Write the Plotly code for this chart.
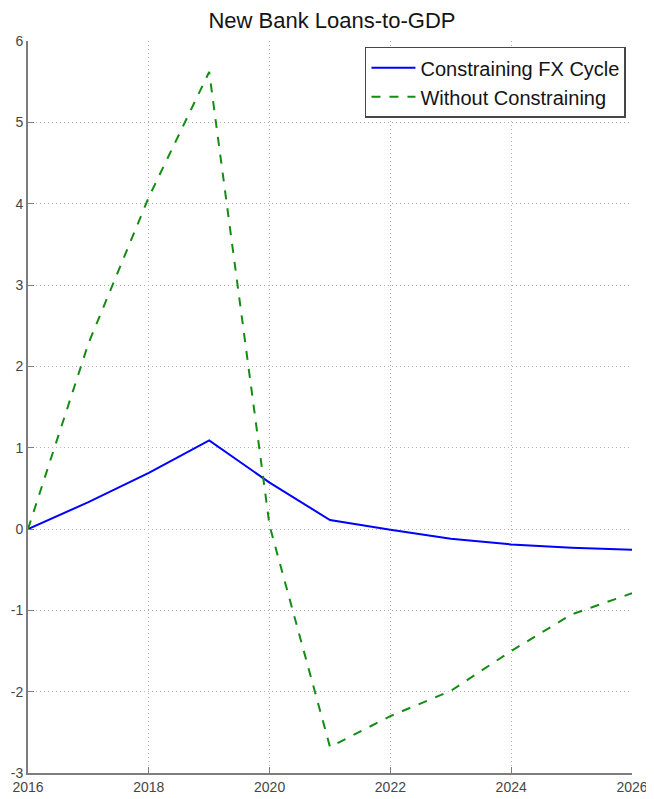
import plotly.graph_objects as go

years = [2016, 2017, 2018, 2019, 2020, 2021, 2022, 2023, 2024, 2025, 2026]
constraining = [0.0, 0.33, 0.69, 1.09, 0.57, 0.11, -0.01, -0.12, -0.19, -0.23, -0.255]
without = [0.0, 2.28, 4.08, 5.62, 0.04, -2.68, -2.30, -1.99, -1.50, -1.05, -0.79]
x_ticks = [2016, 2018, 2020, 2022, 2024, 2026]
y_ticks = [-3, -2, -1, 0, 1, 2, 3, 4, 5, 6]

fig = go.Figure()
fig.add_trace(go.Scatter(x=years, y=constraining, mode="lines", name="Constraining FX Cycle",
                         line=dict(color="rgb(0,0,255)", width=2)))
fig.add_trace(go.Scatter(x=years, y=without, mode="lines", name="Without Constraining",
                         line=dict(color="rgb(20,140,20)", width=2, dash="dash")))

axis_common = dict(
    showgrid=True, gridcolor="rgb(180,180,180)", griddash="1px,3px", gridwidth=1,
    showline=True, linecolor="rgb(125,125,125)", linewidth=2,
    ticks="inside", ticklen=6, tickcolor="rgb(125,125,125)",
    tickfont=dict(family="Liberation Sans, Arial", size=14, color="rgb(70,70,70)"),
    zeroline=False, mirror=False, automargin=False,
)
fig.update_xaxes(range=[2016, 2026], tickvals=x_ticks, ticktext=[str(v) for v in x_ticks], **axis_common)
fig.update_yaxes(range=[-3, 6], tickvals=y_ticks, ticktext=[str(v) for v in y_ticks], **axis_common)

fig.update_layout(
    width=646, height=791,
    margin=dict(l=20, r=22, t=33, b=26),
    paper_bgcolor="white", plot_bgcolor="white",
    title=dict(text="New Bank Loans-to-GDP", x=0.5015, xanchor="center", y=0.985, yanchor="middle",
               font=dict(family="Liberation Sans, Arial", size=22, color="rgb(20,20,20)"), automargin=False),
    legend=dict(x=0.99, y=0.992, xanchor="right", yanchor="top",
                bgcolor="white", bordercolor="rgb(70,70,70)", borderwidth=1.5,
                font=dict(family="Liberation Sans, Arial", size=20, color="rgb(20,20,20)"),
                tracegroupgap=0, itemwidth=44),
    showlegend=True,
)

fig.write_html("out.html")
